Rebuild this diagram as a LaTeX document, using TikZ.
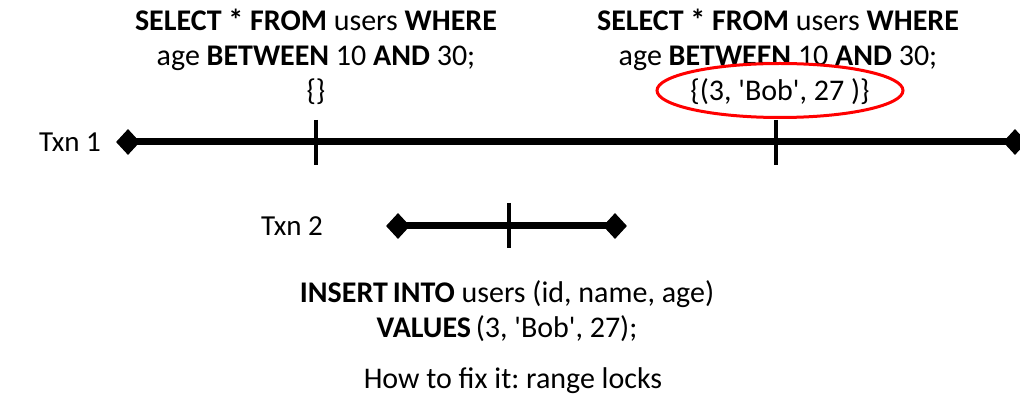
\documentclass[tikz,border=0pt]{standalone}
\usepackage{fontspec}
\setmainfont{Carlito}[Ligatures=TeXOff]
\usetikzlibrary{shapes.geometric}
\frenchspacing
\begin{document}
\begin{tikzpicture}[x=1pt,y=-1pt,
  txt/.style={font=\fontsize{30}{35}\selectfont, align=center, inner sep=0pt},
  lbl/.style={font=\fontsize{29}{33}\selectfont, inner sep=0pt},
  endpt/.style={diamond, fill=black, draw=none, minimum width=24pt, minimum height=26pt, inner sep=0pt},
  tl/.style={line width=7pt},
  tick/.style={line width=4pt}]
\useasboundingbox (0,0) rectangle (1020,398);
% Txn 1
\node[lbl] (t1) at (70,142) {Txn 1};
\node[endpt] (a1) at (128,142) {};
\node[endpt] (b1) at (1015,142) {};
\draw[tl] (a1.center) -- (b1.center);
\coordinate (k1t) at (316,120); \coordinate (k1b) at (316,165);
\coordinate (k2t) at (776,120); \coordinate (k2b) at (776,165);
\draw[tick] (k1t) -- (k1b);
\draw[tick] (k2t) -- (k2b);
% queries
\node[txt] (q1) at (316,40) {\textbf{SELECT * FROM} users \textbf{WHERE}\\ age \textbf{BETWEEN} 10 \textbf{AND} 30;};
\node[txt] (r1) at (316,92) {\{\}};
\node[txt] (q2) at (778,40) {\textbf{SELECT * FROM} users \textbf{WHERE}\\ age \textbf{BETWEEN} 10 \textbf{AND} 30;};
\node[txt] (r2) at (780,92) {\{(3, 'Bob', 27 )\}};
\draw[red, line width=3pt] (780,90.5) ellipse [x radius=123, y radius=27];
% Txn 2
\node[lbl] (t2) at (292,226) {Txn 2};
\node[endpt] (a2) at (398,226) {};
\node[endpt] (b2) at (615,226) {};
\draw[tl] (a2.center) -- (b2.center);
\coordinate (k3t) at (509,203); \coordinate (k3b) at (509,248);
\draw[tick] (k3t) -- (k3b);
\node[txt] (ins) at (507,311) {\textbf{INSERT\hspace{-2pt} INTO} users (id, name, age)\\ \textbf{VALUES}\hspace{-2pt} (3, 'Bob', 27);};
\node[txt] (fix) at (513,381) {How to fix it: range locks};
\end{tikzpicture}
\end{document}
